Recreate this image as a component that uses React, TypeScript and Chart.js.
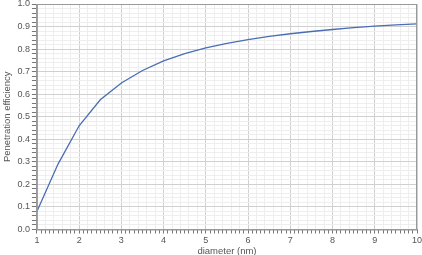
import React, { useEffect, useRef } from "react";
import { Chart, registerables } from "chart.js";
Chart.register(...registerables);

const diameters = [1, 1.5, 2, 2.5, 3, 3.5, 4, 4.5, 5, 5.5, 6, 6.5, 7, 7.5, 8, 8.5, 9, 9.5, 10];
const efficiency = [0.08, 0.29, 0.46, 0.575, 0.65, 0.705, 0.748, 0.78, 0.805, 0.825, 0.842, 0.856, 0.868, 0.878, 0.887, 0.895, 0.902, 0.907, 0.912];
const xTitle = "diameter (nm)";
const yTitle = "Penetration efficiency";

const isMult = (v: number, step: number) => Math.abs(v / step - Math.round(v / step)) < 1e-6;

export default function App() {
  const ref = useRef<HTMLCanvasElement>(null);
  useEffect(() => {
    const font = { family: "'Liberation Sans', Arial, sans-serif", size: 9 };
    const chart = new Chart(ref.current!, {
      type: "line",
      data: {
        datasets: [
          {
            data: diameters.map((d, i) => ({ x: d, y: efficiency[i] })),
            borderColor: "#4a6db3",
            borderWidth: 1.3,
            pointRadius: 0,
            tension: 0,
          },
        ],
      },
      options: {
        animation: false,
        responsive: false,
        layout: { padding: { top: 4, right: 5, left: 2, bottom: -1 } },
        plugins: { legend: { display: false }, tooltip: { enabled: false } },
        scales: {
          x: {
            type: "linear",
            min: 1,
            max: 10,
            afterFit: (s: any) => {
              s.paddingRight = 0;
              s.paddingLeft = 0;
            },
            border: { color: "#999", width: 1 },
            grid: {
              color: (c: any) => (isMult(c.tick.value, 1) ? "#d0d0d0" : isMult(c.tick.value, 0.2) ? "#eeeeee" : "rgba(0,0,0,0)"),
              tickColor: "#777",
              tickLength: 4,
              lineWidth: 1,
            },
            ticks: {
              stepSize: 0.1,
              autoSkip: false,
              maxTicksLimit: 1000,
              maxRotation: 0,
              color: "#555",
              font: { ...font, lineHeight: 1 },
              padding: 3,
              callback: (v: any) => (isMult(Number(v), 1) ? String(Math.round(Number(v))) : ""),
            },
            title: { display: true, text: xTitle, color: "#555", font: { ...font, size: 9.5, lineHeight: 1 }, padding: { top: -2, bottom: 0 } },
          },
          y: {
            type: "linear",
            min: 0,
            max: 1,
            afterFit: (s: any) => {
              s.paddingTop = 0;
              s.paddingBottom = 0;
            },
            border: { color: "#999", width: 1 },
            grid: {
              color: (c: any) => (isMult(c.tick.value, 0.1) ? "#d0d0d0" : "#eeeeee"),
              tickColor: "#777",
              tickLength: 5,
              lineWidth: 1,
            },
            ticks: {
              stepSize: 0.02,
              autoSkip: false,
              maxTicksLimit: 1000,
              color: "#555",
              font,
              padding: 2,
              callback: (v: any) => (isMult(Number(v), 0.1) ? Number(v).toFixed(1) : ""),
            },
            title: { display: true, text: yTitle, color: "#555", font: { ...font, size: 9.5 }, padding: { top: 0, bottom: 2 } },
          },
        },
      },
      plugins: [
        {
          id: "frame",
          afterDraw(ch: any) {
            const { ctx, chartArea: a } = ch;
            ctx.save();
            ctx.strokeStyle = "#999";
            ctx.lineWidth = 1;
            ctx.strokeRect(a.left + 0.5, a.top + 0.5, a.right - a.left - 1, a.bottom - a.top);
            ctx.restore();
          },
        },
      ],
    } as any);
    return () => chart.destroy();
  }, []);
  return (
    <div style={{ position: "fixed", left: 0, top: 0, width: 422, height: 255, background: "#fff" }}>
      <canvas ref={ref} width={422} height={255} />
    </div>
  );
}
